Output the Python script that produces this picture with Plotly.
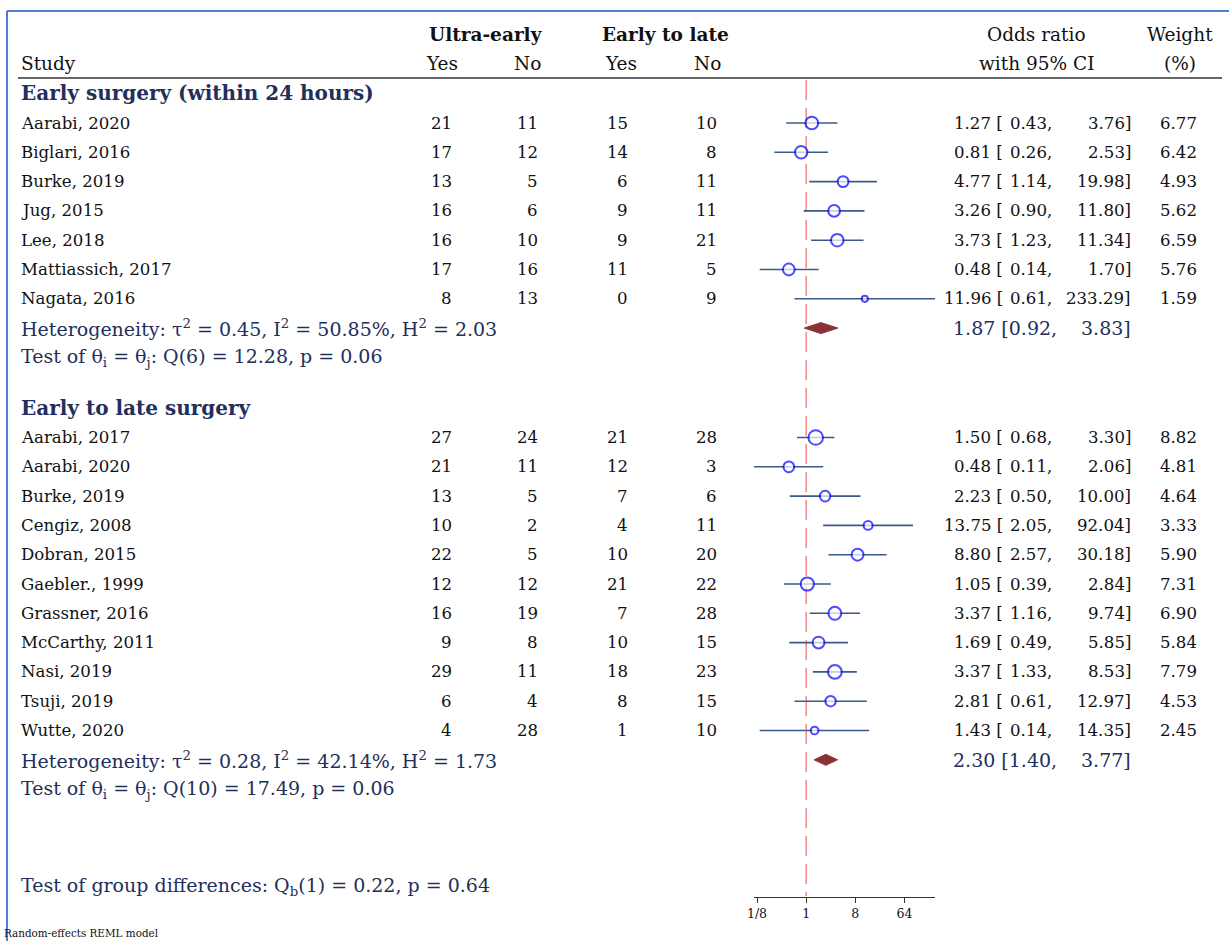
import math
import plotly.graph_objects as go

# ---------------- data ----------------
g1_title = "Early surgery (within 24 hours)"
g1_studies = ["Aarabi, 2020", "Biglari, 2016", "Burke, 2019", "Jug, 2015", "Lee, 2018",
              "Mattiassich, 2017", "Nagata, 2016"]
g1_ue_yes = [21, 17, 13, 16, 16, 17, 8]
g1_ue_no = [11, 12, 5, 6, 10, 16, 13]
g1_el_yes = [15, 14, 6, 9, 9, 11, 0]
g1_el_no = [10, 8, 11, 11, 21, 5, 9]
g1_or = [1.27, 0.81, 4.77, 3.26, 3.73, 0.48, 11.96]
g1_lo = [0.43, 0.26, 1.14, 0.90, 1.23, 0.14, 0.61]
g1_hi = [3.76, 2.53, 19.98, 11.80, 11.34, 1.70, 233.29]
g1_w = [6.77, 6.42, 4.93, 5.62, 6.59, 5.76, 1.59]
g1_pooled = [1.87, 0.92, 3.83]
g1_het = "Heterogeneity: τ<sup>2</sup> = 0.45, I<sup>2</sup> = 50.85%, H<sup>2</sup> = 2.03"
g1_test = "Test of θ<sub>i</sub> = θ<sub>j</sub>: Q(6) = 12.28, p = 0.06"

g2_title = "Early to late surgery"
g2_studies = ["Aarabi, 2017", "Aarabi, 2020", "Burke, 2019", "Cengiz, 2008", "Dobran, 2015",
              "Gaebler., 1999", "Grassner, 2016", "McCarthy, 2011", "Nasi, 2019", "Tsuji, 2019",
              "Wutte, 2020"]
g2_ue_yes = [27, 21, 13, 10, 22, 12, 16, 9, 29, 6, 4]
g2_ue_no = [24, 11, 5, 2, 5, 12, 19, 8, 11, 4, 28]
g2_el_yes = [21, 12, 7, 4, 10, 21, 7, 10, 18, 8, 1]
g2_el_no = [28, 3, 6, 11, 20, 22, 28, 15, 23, 15, 10]
g2_or = [1.50, 0.48, 2.23, 13.75, 8.80, 1.05, 3.37, 1.69, 3.37, 2.81, 1.43]
g2_lo = [0.68, 0.11, 0.50, 2.05, 2.57, 0.39, 1.16, 0.49, 1.33, 0.61, 0.14]
g2_hi = [3.30, 2.06, 10.00, 92.04, 30.18, 2.84, 9.74, 5.85, 8.53, 12.97, 14.35]
g2_w = [8.82, 4.81, 4.64, 3.33, 5.90, 7.31, 6.90, 5.84, 7.79, 4.53, 2.45]
g2_pooled = [2.30, 1.40, 3.77]
g2_het = "Heterogeneity: τ<sup>2</sup> = 0.28, I<sup>2</sup> = 42.14%, H<sup>2</sup> = 1.73"
g2_test = "Test of θ<sub>i</sub> = θ<sub>j</sub>: Q(10) = 17.49, p = 0.06"

group_diff = "Test of group differences: Q<sub>b</sub>(1) = 0.22, p = 0.64"
footnote = "Random-effects REML model"

tick_vals = [0.125, 1, 8, 64]
tick_text = ["1/8", "1", "8", "64"]

# ---------------- layout constants ----------------
W, H = 1229, 941
FONT = "DejaVu Serif"
NAVY = "#222f5c"
BLACK = "#111111"
ROW = 29.3
BODY = 16.6
HEAD = 18.5
BIG = 19.0

def px(x):
    return x / W

xmin = min(g1_lo + g2_lo)
xmax = max(g1_hi + g2_hi)

fig = go.Figure()
ann = []

def text(x, y, s, anchor="left", size=BODY, color=BLACK, bold=False):
    if bold:
        s = "<b>" + s + "</b>"
    ann.append(dict(x=px(x), xref="paper", y=y, yref="y", text=s, showarrow=False,
                    xanchor=anchor, yanchor="middle", borderpad=0,
                    font=dict(family=FONT, size=size, color=color)))

# header
text(486, 34, "Ultra-early", "center", HEAD, BLACK, True)
text(665, 34, "Early to late", "center", HEAD, BLACK, True)
text(20, 63, "Study", "left", HEAD)
text(459, 63, "Yes", "right", HEAD)
text(542, 63, "No", "right", HEAD)
text(638, 63, "Yes", "right", HEAD)
text(722, 63, "No", "right", HEAD)
text(1036, 34, "Odds ratio", "center", HEAD)
text(1036, 63, "with 95% CI", "center", HEAD)
text(1180, 34, "Weight", "center", HEAD)
text(1180, 63, "(%)", "center", HEAD)


def group(title, title_y, first_y, studies, ue_y, ue_n, el_y, el_n, orr, lo, hi, w,
          pooled, het, test):
    text(20, title_y, title, "left", 20, NAVY, True)
    ys = [first_y + ROW * i for i in range(len(studies))]
    for i, y in enumerate(ys):
        text(20, y, studies[i])
        text(453, y, str(ue_y[i]), "right")
        text(539, y, str(ue_n[i]), "right")
        text(629, y, str(el_y[i]), "right")
        text(718, y, str(el_n[i]), "right")
        text(1004, y, f"{orr[i]:.2f} [", "right")
        text(1053, y, f"{lo[i]:.2f},", "right")
        text(1132, y, f"{hi[i]:.2f}]", "right")
        text(1198, y, f"{w[i]:.2f}", "right")
    # CI lines
    cx, cy = [], []
    for i, y in enumerate(ys):
        cx += [lo[i], hi[i], None]
        cy += [y, y, None]
    fig.add_trace(go.Scatter(x=cx, y=cy, mode="lines",
                             line=dict(color="#3c5a86", width=1.6),
                             hoverinfo="skip", showlegend=False))
    fig.add_trace(go.Scatter(x=orr, y=ys, mode="markers",
                             marker=dict(symbol="circle", color="white",
                                         size=[4.9 * math.sqrt(v) for v in w],
                                         line=dict(color="#0000ff", width=2)),
                             showlegend=False))
    hy = first_y + ROW * len(studies)
    est, plo, phi = pooled
    fig.add_trace(go.Scatter(x=[plo, est, phi, est, plo], y=[hy, hy - 5.5, hy, hy + 5.5, hy],
                             mode="lines", fill="toself", fillcolor="#8b3236",
                             line=dict(color="#8b3236", width=1),
                             hoverinfo="skip", showlegend=False))
    text(20, hy, het, "left", BIG, NAVY)
    text(20, hy + ROW, test, "left", BIG, NAVY)
    text(1058, hy, f"{est:.2f} [{plo:.2f},", "right", BIG, NAVY)
    text(1132, hy, f"{phi:.2f}]", "right", BIG, NAVY)


group(g1_title, 93, 123, g1_studies, g1_ue_yes, g1_ue_no, g1_el_yes, g1_el_no,
      g1_or, g1_lo, g1_hi, g1_w, g1_pooled, g1_het, g1_test)
group(g2_title, 408, 437.5, g2_studies, g2_ue_yes, g2_ue_no, g2_el_yes, g2_el_no,
      g2_or, g2_lo, g2_hi, g2_w, g2_pooled, g2_het, g2_test)

text(20, 886, group_diff, "left", BIG, NAVY)
ann.append(dict(x=px(3), xref="paper", y=933, yref="y", text=footnote, showarrow=False,
                xanchor="left", yanchor="middle", borderpad=0,
                font=dict(family=FONT, size=10.4, color=BLACK)))

shapes = [
    # reference line at OR = 1
    dict(type="line", xref="x", yref="y", x0=1, x1=1, y0=80, y1=896,
         line=dict(color="#ee7777", width=1.3, dash="20px,8px"), layer="below"),
    # header rule
    dict(type="line", xref="paper", yref="y", x0=px(18), x1=px(1222), y0=78, y1=78,
         line=dict(color="#333333", width=1.5)),
    # frame
    dict(type="line", xref="paper", yref="y", x0=px(7), x1=1, y0=11, y1=11,
         line=dict(color="#4f7fcf", width=2)),
    dict(type="line", xref="paper", yref="y", x0=px(7), x1=px(7), y0=11, y1=H,
         line=dict(color="#4f7fcf", width=2)),
]

fig.update_layout(
    width=W, height=H, margin=dict(l=0, r=0, t=0, b=0, pad=0, autoexpand=False),
    paper_bgcolor="white", plot_bgcolor="rgba(0,0,0,0)",
    showlegend=False, annotations=ann, shapes=shapes,
    xaxis=dict(type="log", domain=[px(754), px(935)],
               range=[math.log10(xmin), math.log10(xmax)],
               anchor="free", position=(H - 897) / H, automargin=False,
               showgrid=False, zeroline=False, showline=True, linecolor="#333333", linewidth=1,
               ticks="outside", ticklen=5, tickcolor="#333333", tickwidth=1,
               tickvals=tick_vals, ticktext=tick_text,
               tickfont=dict(family=FONT, size=12.5, color=BLACK)),
    yaxis=dict(range=[H, 0], domain=[0, 1], visible=False, showgrid=False, zeroline=False,
               automargin=False),
)

fig.write_html("out.html")
